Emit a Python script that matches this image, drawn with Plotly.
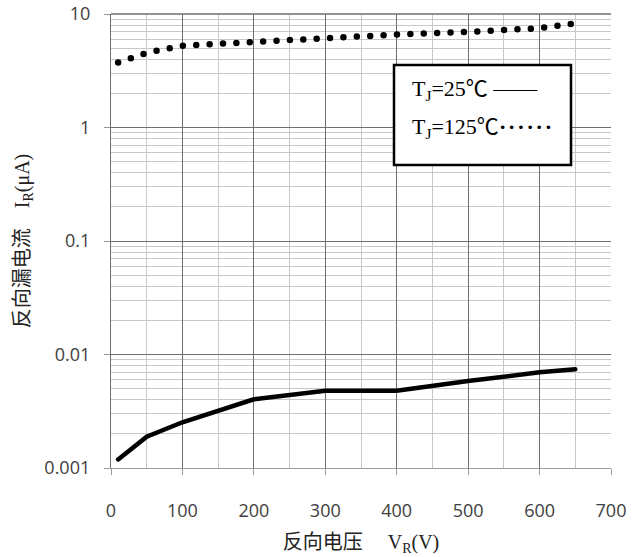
import plotly.graph_objects as go

# Data
voltage = [10, 50, 100, 200, 300, 400, 500, 600, 650]
ir_25c = [0.00119, 0.00189, 0.00253, 0.00403, 0.0048, 0.0048, 0.00584, 0.00697, 0.0074]
ir_125c = [3.74, 4.55, 5.25, 5.7, 6.15, 6.6, 6.95, 7.5, 8.25]

x_ticks = [0, 100, 200, 300, 400, 500, 600, 700]
y_ticks = [0.001, 0.01, 0.1, 1, 10]
y_ticklabels = ["0.001", "0.01", "0.1", "1", "10"]

mid_dots = "<b>" + "\u200a".join(["\u00b7"] * 6) + "</b>"
legend_lines = ["T<sub>J</sub>=25℃ ——", "T<sub>J</sub>=125℃" + mid_dots]

serif = "Liberation Serif, Noto Sans CJK SC, serif"
sans = "Open Sans, Noto Sans, sans-serif"

fig = go.Figure()
fig.add_trace(go.Scatter(x=voltage, y=ir_25c, mode="lines",
                         line=dict(color="black", width=4.5), showlegend=False))
fig.add_trace(go.Scatter(x=voltage, y=ir_125c, mode="lines",
                         line=dict(color="black", width=6.5, dash="0px,13.4px"),
                         showlegend=False))

major = "#6e6e6e"
minor_c = "#c8c8c8"

fig.update_xaxes(
    range=[0, 700], tickvals=x_ticks, ticktext=[str(v) for v in x_ticks],
    showgrid=True, gridcolor=major, gridwidth=1.3,
    minor=dict(dtick=50, showgrid=True, gridcolor=minor_c, gridwidth=1, ticks=""),
    ticks="outside", ticklen=6, tickcolor="#999999", tickwidth=1,
    showline=True, linecolor="#999999", linewidth=1, mirror=False,
    zeroline=False, automargin=False,
    tickfont=dict(family=sans, size=18, color="#404040"),
    ticklabelstandoff=20,
    title=dict(text="反向电压\u3000 V<sub>R</sub>(V)", font=dict(family=serif, size=20, color="#222222"),
               standoff=14),
)
fig.update_yaxes(
    type="log", range=[-3, 1], tickvals=y_ticks, ticktext=y_ticklabels,
    showgrid=True, gridcolor=major, gridwidth=1.3,
    minor=dict(dtick="D1", showgrid=True, gridcolor=minor_c, gridwidth=1, ticks=""),
    ticks="outside", ticklen=6, tickcolor="#999999", tickwidth=1,
    showline=True, linecolor=major, linewidth=1.3,
    zeroline=False, automargin=False,
    tickfont=dict(family=sans, size=18, color="#404040"),
    ticklabelstandoff=10,
    title=dict(text="反向漏电流\u3000I<sub>R</sub>(μA)", font=dict(family=serif, size=20, color="#222222"),
               standoff=9),
)

# legend text box
fig.add_shape(type="rect", xref="paper", yref="paper", x0=0.566, x1=0.92, y0=0.6674, y1=0.8877,
              line=dict(color="black", width=2.5), fillcolor="white", layer="above")
for txt, yy in zip(legend_lines, [0.8326, 0.7489]):
    fig.add_annotation(xref="paper", yref="paper", x=0.598, y=yy, xanchor="left", yanchor="middle",
                       text=txt, showarrow=False,
                       font=dict(family=serif, size=22, color="black"))

# top border
fig.add_shape(type="line", xref="paper", yref="paper", x0=0, x1=1, y0=1, y1=1,
              line=dict(color=major, width=1.3))

fig.update_layout(
    width=638, height=557,
    margin=dict(l=111, r=27, t=14, b=89),
    paper_bgcolor="white", plot_bgcolor="white",
)

post = ("var gd=document.getElementById('{plot_id}');"
        "function f(){gd.querySelectorAll('path.js-line').forEach(function(p){p.style.strokeLinecap='round';});}"
        "f(); if(gd.on){gd.on('plotly_afterplot', f);}")
fig.write_html("out.html", post_script=post)
